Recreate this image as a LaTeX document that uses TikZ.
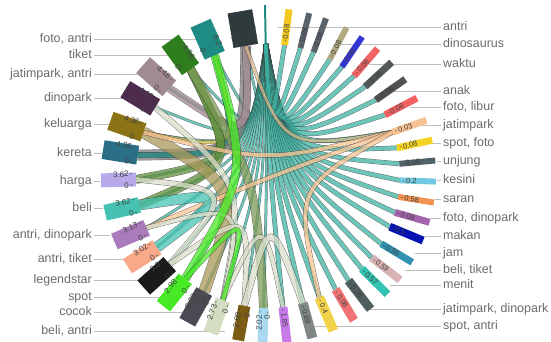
\documentclass[tikz,border=0pt]{standalone}
\usepackage{fontspec}
\setmainfont{Liberation Sans}
\usetikzlibrary{calc}

\definecolor{labgrey}{HTML}{6A6A6A}
\definecolor{leadgrey}{HTML}{BDBDBD}
\definecolor{chteal}{HTML}{3CB0A0}
\definecolor{chgrey}{HTML}{7A7A7A}
\definecolor{chgreen}{HTML}{5E8E3A}
\definecolor{cholive}{HTML}{7C9A55}
\definecolor{chkhaki}{HTML}{A8985A}
\definecolor{chyellow}{HTML}{E2C44A}
\definecolor{chtan}{HTML}{D6B88A}
\definecolor{chpale}{HTML}{D9DEC9}
% segment colours
\definecolor{c1}{HTML}{1E8A80}
\definecolor{c2}{HTML}{2E3A3C}
\definecolor{c3}{HTML}{1F8C84}
\definecolor{c4}{HTML}{2F7E1E}
\definecolor{c5}{HTML}{A28A92}
\definecolor{c6}{HTML}{4E2C4E}
\definecolor{c7}{HTML}{8C7416}
\definecolor{c8}{HTML}{2B6F86}
\definecolor{c9}{HTML}{B9A9EA}
\definecolor{c10}{HTML}{45C2B2}
\definecolor{c11}{HTML}{A97BBA}
\definecolor{c12}{HTML}{F7A98A}
\definecolor{c13}{HTML}{1B1B1D}
\definecolor{c14}{HTML}{46EA24}
\definecolor{c15}{HTML}{4A4A52}
\definecolor{c16}{HTML}{D2DDC2}
\definecolor{c17}{HTML}{7B5C12}
\definecolor{c18}{HTML}{A9D9F1}
\definecolor{c19}{HTML}{C97AE9}
\definecolor{c20}{HTML}{7E8686}
\definecolor{c21}{HTML}{F2D249}
\definecolor{c22}{HTML}{F07272}
\definecolor{c23}{HTML}{4F5E5E}
\definecolor{c24}{HTML}{33C2B2}
\definecolor{c25}{HTML}{D9B3B3}
\definecolor{c26}{HTML}{3091B1}
\definecolor{c27}{HTML}{0612B2}
\definecolor{c28}{HTML}{A463AA}
\definecolor{c29}{HTML}{F29252}
\definecolor{c30}{HTML}{72C9E1}
\definecolor{c31}{HTML}{516169}
\definecolor{c32}{HTML}{F2D222}
\definecolor{c33}{HTML}{F8C393}
\definecolor{c34}{HTML}{F26262}
\definecolor{c35}{HTML}{525252}
\definecolor{c36}{HTML}{525A5A}
\definecolor{c37}{HTML}{F26464}
\definecolor{c38}{HTML}{3434D4}
\definecolor{c39}{HTML}{B3AA82}
\definecolor{c40}{HTML}{5A626A}
\definecolor{c41}{HTML}{5A626A}
\definecolor{c42}{HTML}{F2CA22}

% ribbon between two segments, bent towards the centre
\newcommand\ribbon[4]{%
  \begin{scope}[transparency group, opacity=.75]
    \draw[chordedge, double=#3, double distance=#4] (#1-i)
      .. controls ($(C)!.3!($(#1-i)!.5!(#2-i)$)$) .. (#2-i);
  \end{scope}}

\def\leftsegs{s2/99.7/25/c2/6.9, s3/113.8/22/c3/6.2, s4/125.9/21/c4/4.56,
  s5/138.4/21/c5/4.48, s6/148.7/19/c6/4.42, s7/160.7/19/c7/4.36,
  s8/170.9/19/c8/4.36, s9/181.5/14/c9/3.62, s10/192.7/16/c10/3.62,
  s11/203.1/17/c11/3.13, s12/212.7/17/c12/3.02, s13/221.9/19/c13/3.0,
  s14/231.2/17/c14/2.98, s15/241.1/18/c15/2.79, s16/250/15/c16/2.73,
  s17/259.7/12/c17/2.08, s18/268.1/10/c18/2.02}
\def\rightsegs{s19/276.5/9/c19/1.85, s20/285.3/10/c20/0.69, s21/292.9/10/c21/0.4,
  s22/300.8/9/c22/0.08, s23/307.6/9/c23/0.08, s24/315.3/8/c24/0.57,
  s25/321.8/8/c25/0.59, s26/329.1/7/c26/0.55, s27/337.4/8/c27/0.5,
  s28/344/7/c28/0.08, s29/350.9/6/c29/0.58, s30/358.1/6/c30/0.2,
  s31/5.3/6/c31/0.08, s32/12.3/7/c32/0.08, s33/19.4/7/c33/0.03,
  s34/27.6/7/c34/0.08, s35/35.2/7/c35/0.08, s36/42.6/7/c36/0.08,
  s37/49.3/7/c37/0.08, s38/55.9/6/c38/0.08, s39/62.1/6/c39/0.08,
  s40/69.8/6/c40/0.08, s41/75.8/6/c41/0.08, s42/82.8/7/c42/0.08}
\def\leftlabs{{foto, antri}/302/200, tiket/286/175, {jatimpark, antri}/267/150,
  dinopark/243/130, keluarga/217/110, kereta/188/103, harga/160/100,
  beli/133/103, {antri, dinopark}/106/110, {antri, tiket}/82/125,
  legendstar/61/160, spot/44/165, cocok/29/185, {beli, antri}/10/225}
\def\rightlabs{antri/314/278, dinosaurus/297/340, waktu/277/370, anak/250/390,
  {foto, libur}/234/410, jatimpark/216/420, {spot, foto}/198/432,
  unjung/180/437, kesini/161/437, saran/142/435, {foto, dinopark}/123/430,
  makan/105/425, jam/88/415, {beli, tiket}/71/405, menit/56/390,
  {jatimpark, dinopark}/32/370, {spot, antri}/15/310}

\begin{document}
\begin{tikzpicture}[x=1bp, y=1bp,
  lab/.style={font=\fontsize{12.5}{14}\selectfont, text=labgrey, inner sep=2, text height=9, text depth=2.5},
  lead/.style={draw=leadgrey, line width=.9},
  ticklab/.style={font=\fontsize{8}{8}\selectfont, text=black!75, inner sep=.3},
  chordedge/.style={draw=black!80, line width=.4}]
\useasboundingbox (0,0) rectangle (551,341);
\coordinate (C) at (268,165);

% labels and leader lines
\foreach \t/\y/\e in \leftlabs {
  \node[lab, anchor=east] (ll\y) at (94,\y) {\t};
  \coordinate (le\y) at (\e,\y);
  \draw[lead] (ll\y.east) -- (le\y);
}
\foreach \t/\y/\e in \rightlabs {
  \node[lab, anchor=west] (rl\y) at (441,\y) {\t};
  \coordinate (re\y) at (\e,\y);
  \draw[lead] (re\y) -- (rl\y.west);
}

% segment ends
\coordinate (t-i) at ($(C)+(91:132)$);
\coordinate (t-o) at ($(C)+(91:171)$);
\foreach \n/\a/\w/\c/\v in \leftsegs {
  \coordinate (\n-i) at ($(C)+(\a:132)$);
  \coordinate (\n-o) at ($(C)+(\a:167)$);
}
\foreach \n/\a/\w/\c/\v in \rightsegs {
  \coordinate (\n-i) at ($(C)+(\a:132)$);
  \coordinate (\n-o) at ($(C)+(\a:168)$);
}

% ribbons
\foreach \s in {2,...,18} {\ribbon{t}{s\s}{chteal}{2}}
\foreach \s in {19,...,42} {\ribbon{t}{s\s}{chteal}{4}}
\ribbon{s2}{s8}{chgrey}{10}
\ribbon{s5}{s2}{c5}{7}
\ribbon{s2}{s33}{chtan}{3}
\ribbon{s8}{s3}{c3}{5}
\ribbon{s7}{s3}{chyellow}{3}
\ribbon{s4}{s9}{chgreen}{8}
\ribbon{s4}{s10}{chgreen}{8}
\ribbon{s4}{s18}{cholive}{8}
\ribbon{s7}{s15}{chkhaki}{11}
\ribbon{s7}{s33}{c33}{4}
\ribbon{s11}{s33}{c33}{4}
\ribbon{s21}{s33}{c33}{4}
\ribbon{s10}{s12}{c10}{10}
\ribbon{s6}{s16}{chpale}{5}
\ribbon{s9}{s13}{chpale}{5}
\ribbon{s11}{s16}{chpale}{4}
\ribbon{s13}{s17}{chpale}{5}
\ribbon{s16}{s19}{chpale}{4}
\ribbon{s17}{s20}{chpale}{6}
\ribbon{s3}{s14}{c14}{8}
\ribbon{s14}{s16}{c14}{4}

% segments with their tick values
\draw[line width=2, draw=c1] (t-i) -- (t-o);
\foreach \n/\a/\w/\c/\v in \leftsegs {
  \draw[line width=\w, draw=\c] (\n-i) -- (\n-o);
  \node[ticklab, anchor=east, rotate=\a-180] (\n-v) at ($(C)+({\a-0.17*\w}:135)$) {\v\,-};
  \node[ticklab, anchor=east, rotate=\a-180] (\n-z) at ($(C)+({\a+0.17*\w}:135)$) {0\,-};
}
\foreach \n/\a/\w/\c/\v in \rightsegs {
  \draw[line width=\w, draw=\c] (\n-i) -- (\n-o);
  \node[ticklab, font=\fontsize{7.5}{8}\selectfont, anchor=west, rotate=\a] (\n-v) at ($(C)+(\a:134)$) {-\,\v};
}
\end{tikzpicture}
\end{document}
